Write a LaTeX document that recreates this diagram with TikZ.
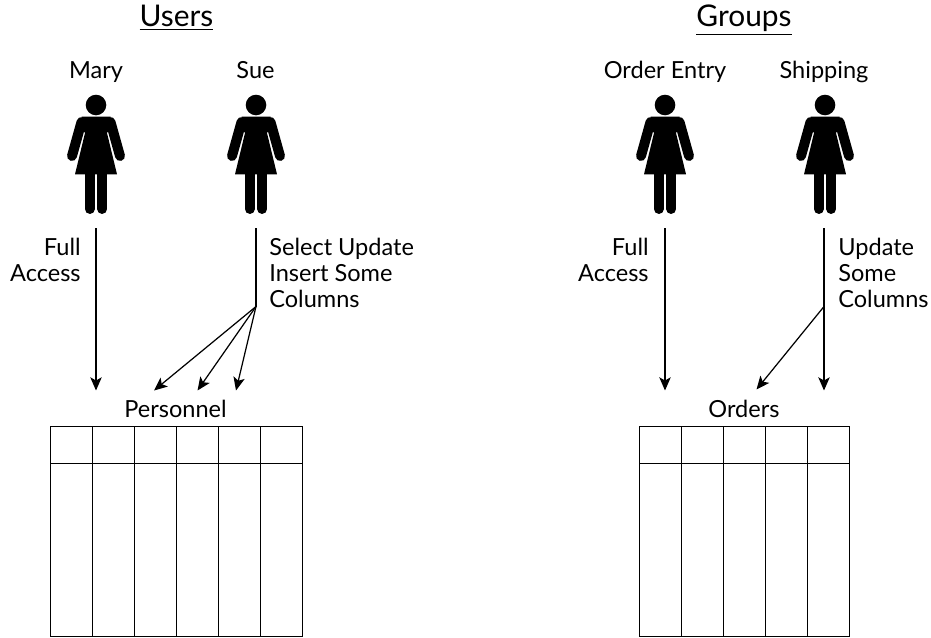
\documentclass[tikz,border=0pt]{standalone}
\usepackage{fontspec}
\setmainfont{Lato}
\usepackage{tikz}
\usetikzlibrary{arrows.meta, positioning}
\tikzstyle{heading} = [font=\fontsize{17}{20}\selectfont, inner sep=0, anchor=base]
\tikzstyle{label} = [font=\fontsize{13.4}{14.8}\selectfont, inner sep=0]
\tikzstyle{title} = [label, anchor=base]
\tikzstyle{link} = [line width=0.7pt, -{Stealth[length=7.5pt, width=6.5pt, inset=1.8pt]}]
\tikzstyle{stem} = [line width=0.7pt]
\tikzstyle{grid} = [line width=0.55pt]
\tikzset{person/.pic={
	\fill (0, 0) circle (0.206);
	\fill (-0.29, 0.234) -- (0.29, 0.234) -- (0.29, 0.45) -- (0.22, 0.56) -- (0.42, 1.386)
		-- (-0.42, 1.386) -- (-0.22, 0.56) -- (-0.29, 0.45) -- cycle;
	\draw [line width=5.67pt, line cap=round] (-0.29, 0.34) -- (-0.48, 1.02);
	\draw [line width=5.67pt, line cap=round] (0.29, 0.34) -- (0.48, 1.02);
	\draw [line width=5.67pt, line cap=round] (-0.126, 1.3) -- (-0.126, 2.08);
	\draw [line width=5.67pt, line cap=round] (0.126, 1.3) -- (0.126, 2.08);
}}

\begin{document}
\begin{tikzpicture}[y=-1cm]
	\useasboundingbox (0, 0) rectangle (18.62, 12.76);

	% users
	\node (Users) [heading] at (3.53, 0.53) {\underline{Users}};
	\node (Mary) [title] at (1.92, 1.56) {Mary};
	\node (Sue) [title] at (5.11, 1.56) {Sue};
	\pic at (1.92, 2.1) {person};
	\pic at (5.12, 2.1) {person};

	% mary to personnel
	\coordinate (MaryOut) at (1.92, 4.56);
	\coordinate (MaryIn) at (1.92, 7.81);
	\draw [link] (MaryOut) -- (MaryIn);
	\node (MaryRights) [label, align=right, anchor=east] at (1.62, 5.2) {Full\\Access};

	% sue to personnel
	\coordinate (SueOut) at (5.12, 4.56);
	\coordinate (SueSplit) at (5.12, 6.13);
	\coordinate (SueInA) at (3.08, 7.81);
	\coordinate (SueInB) at (3.95, 7.81);
	\coordinate (SueInC) at (4.72, 7.81);
	\draw [stem] (SueOut) -- (SueSplit);
	\draw [link] (SueSplit) -- (SueInA);
	\draw [link] (SueSplit) -- (SueInB);
	\draw [link] (SueSplit) -- (SueInC);
	\node (SueRights) [label, align=left, anchor=west] at (5.38, 5.46) {Select Update\\Insert Some\\Columns};

	% personnel table
	\node (Personnel) [title] at (3.51, 8.34) {Personnel};
	\draw [grid] (1, 8.52) rectangle (6.04, 12.72);
	\draw [grid] (1, 9.26) -- (6.04, 9.26);
	\draw [grid] (1.84, 8.52) -- (1.84, 12.72);
	\draw [grid] (2.68, 8.52) -- (2.68, 12.72);
	\draw [grid] (3.52, 8.52) -- (3.52, 12.72);
	\draw [grid] (4.36, 8.52) -- (4.36, 12.72);
	\draw [grid] (5.2, 8.52) -- (5.2, 12.72);

	% groups
	\node (Groups) [heading] at (14.88, 0.53) {\underline{Groups}};
	\node (OrderEntry) [title] at (13.3, 1.56) {Order Entry};
	\node (Shipping) [title] at (16.48, 1.56) {Shipping};
	\pic at (13.3, 2.1) {person};
	\pic at (16.5, 2.1) {person};

	% order entry to orders
	\coordinate (EntryOut) at (13.3, 4.56);
	\coordinate (EntryIn) at (13.3, 7.81);
	\draw [link] (EntryOut) -- (EntryIn);
	\node (EntryRights) [label, align=right, anchor=east] at (12.98, 5.2) {Full\\Access};

	% shipping to orders
	\coordinate (ShipOut) at (16.48, 4.56);
	\coordinate (ShipSplit) at (16.48, 6.13);
	\coordinate (ShipInA) at (15.13, 7.79);
	\coordinate (ShipInB) at (16.48, 7.81);
	\draw [link] (ShipOut) -- (ShipInB);
	\draw [link] (ShipSplit) -- (ShipInA);
	\node (ShipRights) [label, align=left, anchor=west] at (16.76, 5.46) {Update\\Some\\Columns};

	% orders table
	\node (Orders) [title] at (14.88, 8.34) {Orders};
	\draw [grid] (12.78, 8.52) rectangle (16.98, 12.72);
	\draw [grid] (12.78, 9.26) -- (16.98, 9.26);
	\draw [grid] (13.62, 8.52) -- (13.62, 12.72);
	\draw [grid] (14.46, 8.52) -- (14.46, 12.72);
	\draw [grid] (15.3, 8.52) -- (15.3, 12.72);
	\draw [grid] (16.14, 8.52) -- (16.14, 12.72);
\end{tikzpicture}
\end{document}
